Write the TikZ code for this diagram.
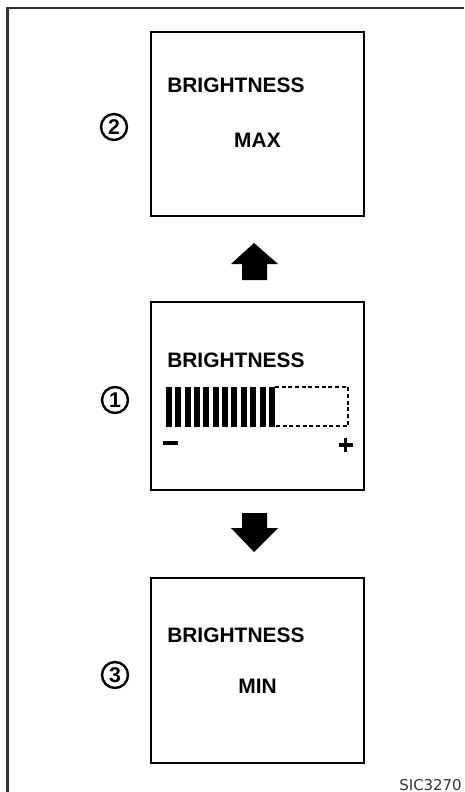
\documentclass[tikz,border=0pt]{standalone}
\usepackage{fontspec}
\setmainfont{Liberation Sans}
\newfontfamily\refpolice{DejaVu Sans}
\usepackage{tikz}
\definecolor{cadre}{HTML}{333333}
\definecolor{reftexte}{HTML}{333333}

\begin{document}
\begin{tikzpicture}[x=0.75pt, y=-0.75pt,
    ecran/.style={draw, line width=1.5pt, minimum width=159.4pt, inner sep=0pt},
    titre/.style={anchor=base west, inner sep=0pt, font=\bfseries\fontsize{15.7}{18}\selectfont},
    valeur/.style={anchor=base, inner sep=0pt, font=\bfseries\fontsize{15.7}{18}\selectfont},
    numero/.style={circle, draw, line width=1.8pt, minimum size=19.5pt, inner sep=0pt,
                   font=\bfseries\fontsize{16}{18}\selectfont}]
                % Cadre de la page
                \useasboundingbox (0,0) rectangle (464,792);
                \draw[cadre, line width=1.6pt] (7.5,792) -- (7.5,8) -- (464,8);

                % Les trois écrans
                \node[ecran, minimum height=138pt] (max) at (257.5,124) {};
                \node[ecran, minimum height=141pt] (niveau) at (257.5,396) {};
                \node[ecran, minimum height=138.75pt] (min) at (257.5,670.5) {};

                % Textes des écrans
                \node[titre] (titremax) at (167,93) {BRIGHTNESS};
                \node[valeur] (valmax) at (257.5,147) {MAX};
                \node[titre] (titreniveau) at (167,367) {BRIGHTNESS};
                \node[titre] (titremin) at (167,642) {BRIGHTNESS};
                \node[valeur] (valmin) at (257.5,693) {MIN};

                % Barre de réglage
                \foreach \i in {0,...,11}
                    \fill (166+\i*9.35,387) rectangle ++(6,40);
                \draw[dash pattern=on 3pt off 2pt, line width=1.4pt] (275,387) -- (348,387) -- (348,426) -- (275,426);
                \fill (163,441) rectangle (178,445);
                \fill (338.5,443.3) rectangle (353,446.7);
                \fill (344,438) rectangle (347.4,452);

                % Numéros
                \node[numero] (n2) at (114,127) {2};
                \node[numero] (n1) at (115,400) {1};
                \node[numero] (n3) at (115,675) {3};

                % Flèches
                \fill (254,243) -- (278,264) -- (267,264) -- (267,280) -- (242,280) -- (242,264) -- (231,264) -- cycle;
                \fill (254,552) -- (278,528) -- (267,528) -- (267,513) -- (242,513) -- (242,528) -- (231,528) -- cycle;

                % Référence
                \node[anchor=base east, inner sep=0pt, reftexte, font=\refpolice\fontsize{11.2}{13}\selectfont] (ref) at (462,790) {SIC3270};
            \end{tikzpicture}
\end{document}
